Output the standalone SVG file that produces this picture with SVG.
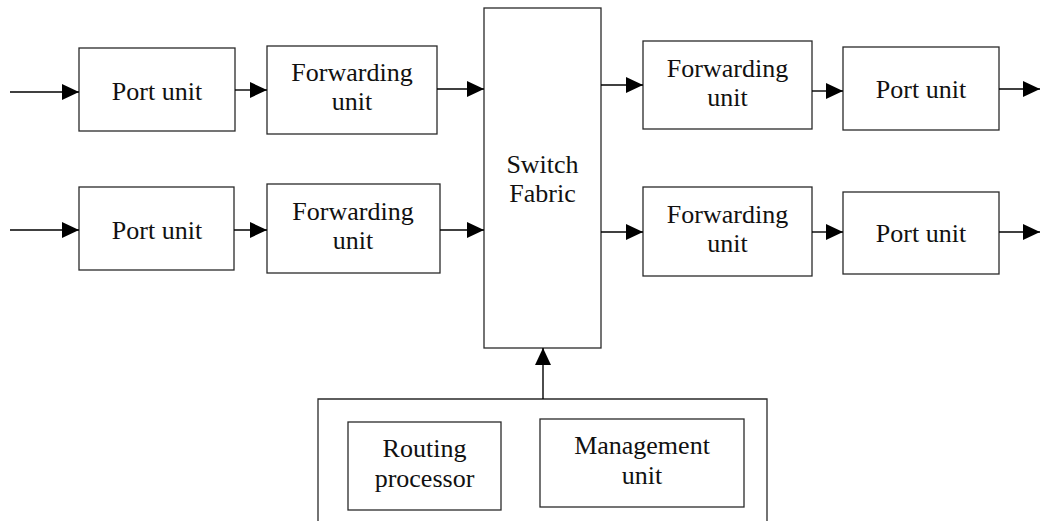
<svg xmlns="http://www.w3.org/2000/svg" width="1040" height="521" viewBox="0 0 1040 521">
  <style>
    .box { fill: #ffffff; stroke: #2a2a2a; stroke-width: 1.3; }
    .lbl { font-family: "Liberation Serif", "Times New Roman", serif; font-size: 26px; fill: #111111; text-anchor: middle; }
    .conn { stroke: #000000; stroke-width: 1.4; fill: none; marker-end: url(#arrow); }
  </style>
  <defs>
    <marker id="arrow" markerUnits="userSpaceOnUse" markerWidth="17" markerHeight="16" refX="17" refY="8" orient="auto">
      <path d="M0,0 L17,8 L0,16 z" fill="#000000"/>
    </marker>
  </defs>
  <rect width="1040" height="521" fill="#ffffff"/>

  <!-- ingress, row 1 -->
  <g id="port-in-1">
    <rect class="box" x="79" y="48" width="156" height="83"/>
    <text class="lbl" x="157" y="100">Port unit</text>
  </g>
  <g id="fwd-in-1">
    <rect class="box" x="267" y="46" width="170" height="88"/>
    <text class="lbl" x="352" y="81">Forwarding</text>
    <text class="lbl" x="352" y="110">unit</text>
  </g>

  <!-- ingress, row 2 -->
  <g id="port-in-2">
    <rect class="box" x="79" y="187" width="155" height="83"/>
    <text class="lbl" x="157" y="239">Port unit</text>
  </g>
  <g id="fwd-in-2">
    <rect class="box" x="267" y="184" width="173" height="89"/>
    <text class="lbl" x="353" y="220">Forwarding</text>
    <text class="lbl" x="353" y="249">unit</text>
  </g>

  <!-- central switching -->
  <g id="switch-fabric">
    <rect class="box" x="484" y="8" width="117" height="340"/>
    <text class="lbl" x="542.5" y="173">Switch</text>
    <text class="lbl" x="542.5" y="202">Fabric</text>
  </g>

  <!-- egress, row 1 -->
  <g id="fwd-out-1">
    <rect class="box" x="643" y="41" width="169" height="88"/>
    <text class="lbl" x="727.5" y="77">Forwarding</text>
    <text class="lbl" x="727.5" y="106">unit</text>
  </g>
  <g id="port-out-1">
    <rect class="box" x="843" y="47" width="156" height="83"/>
    <text class="lbl" x="921" y="98">Port unit</text>
  </g>

  <!-- egress, row 2 -->
  <g id="fwd-out-2">
    <rect class="box" x="643" y="187" width="169" height="89"/>
    <text class="lbl" x="727.5" y="223">Forwarding</text>
    <text class="lbl" x="727.5" y="252">unit</text>
  </g>
  <g id="port-out-2">
    <rect class="box" x="843" y="192" width="156" height="82"/>
    <text class="lbl" x="921" y="242">Port unit</text>
  </g>

  <!-- control plane (enclosure continues below the frame) -->
  <g id="control-plane">
    <path d="M318,530 L318,399 L767,399 L767,530" fill="none" stroke="#2a2a2a" stroke-width="1.3"/>
  </g>
  <g id="routing-processor">
    <rect class="box" x="348" y="422" width="153" height="88"/>
    <text class="lbl" x="424.5" y="457">Routing</text>
    <text class="lbl" x="424.5" y="487">processor</text>
  </g>
  <g id="management-unit">
    <rect class="box" x="540" y="419" width="204" height="88"/>
    <text class="lbl" x="642" y="454">Management</text>
    <text class="lbl" x="642" y="484">unit</text>
  </g>

  <!-- connectors -->
  <g id="connectors">
    <line class="conn" x1="10" y1="92" x2="79" y2="92"/>
    <line class="conn" x1="235" y1="90" x2="267" y2="90"/>
    <line class="conn" x1="437" y1="89" x2="484" y2="89"/>
    <line class="conn" x1="601" y1="85" x2="643" y2="85"/>
    <line class="conn" x1="812" y1="91" x2="843" y2="91"/>
    <line class="conn" x1="999" y1="89" x2="1040" y2="89"/>

    <line class="conn" x1="10" y1="230" x2="79" y2="230"/>
    <line class="conn" x1="234" y1="230" x2="267" y2="230"/>
    <line class="conn" x1="440" y1="230" x2="484" y2="230"/>
    <line class="conn" x1="601" y1="232" x2="643" y2="232"/>
    <line class="conn" x1="812" y1="232" x2="843" y2="232"/>
    <line class="conn" x1="999" y1="232" x2="1040" y2="232"/>

    <line class="conn" x1="543" y1="399" x2="543" y2="348"/>
  </g>
</svg>
